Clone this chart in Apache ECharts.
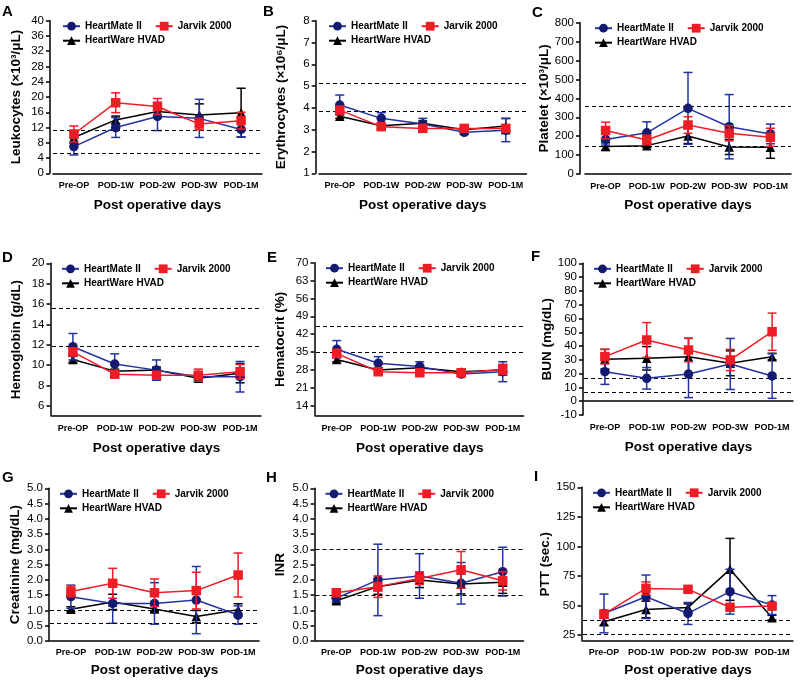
<!DOCTYPE html>
<html><head><meta charset="utf-8">
<script src="https://cdn.jsdelivr.net/npm/echarts@6/dist/echarts.min.js"></script>
<style>html,body{margin:0;padding:0;background:#fff}#c{width:800px;height:683px}</style>
</head><body><div id="c"></div>
<script>
// ---------- data ----------
const categories = ['Pre-OP', 'POD-1W', 'POD-2W', 'POD-3W', 'POD-1M'];
const seriesNames = ['HeartMate II', 'Jarvik 2000', 'HeartWare HVAD'];
const panelLetters = ['A', 'B', 'C', 'D', 'E', 'F', 'G', 'H', 'I'];
const yTitles = ['Leukocytes (×10³/μL)', 'Erythrocytes (×10⁶/μL)', 'Platelet (×10³/μL)',
  'Hemoglobin (g/dL)', 'Hematocrit (%)', 'BUN (mg/dL)', 'Creatinine (mg/dL)', 'INR', 'PTT (sec.)'];
const xTitle = 'Post operative days';

// A Leukocytes
const leukoHM = [7.0, 12.0, 14.9, 14.4, 11.5];   const leukoHMsd = [2.2, 2.6, 3.7, 5.0, 2.0];
const leukoJV = [10.3, 18.5, 17.5, 12.9, 13.8];  const leukoJVsd = [2.1, 2.6, 2.1, 1.5, 2.2];
const leukoHW = [9.4, 14.0, 16.2, 15.3, 15.9];   const leukoHWsd = [1.5, 1.0, 1.0, 2.9, 6.4];
const leukoRef = [11.3, 5.2];
// B Erythrocytes
const eryHM = [4.13, 3.52, 3.26, 2.88, 2.98];    const eryHMsd = [0.46, 0.26, 0.26, 0.1, 0.53];
const eryJV = [3.9, 3.14, 3.06, 3.06, 3.06];     const eryJVsd = [0.15, 0.1, 0.1, 0.1, 0.15];
const eryHW = [3.62, 3.18, 3.3, 3.0, 3.17];      const eryHWsd = [0.1, 0.1, 0.1, 0.1, 0.35];
const eryRef = [5.13, 3.86];
// C Platelet
const pltHM = [183, 218, 347, 250, 212];         const pltHMsd = [30, 58, 190, 170, 52];
const pltJV = [230, 180, 259, 215, 194];         const pltJVsd = [44, 25, 44, 40, 48];
const pltHW = [145, 150, 201, 143, 141];         const pltHWsd = [20, 10, 40, 40, 58];
const pltRef = [357, 148];
// D Hemoglobin
const hgbHM = [11.8, 10.1, 9.5, 8.85, 8.85];     const hgbHMsd = [1.3, 1.0, 1.0, 0.3, 1.5];
const hgbJV = [11.3, 9.1, 9.0, 9.0, 9.35];       const hgbJVsd = [0.4, 0.3, 0.3, 0.6, 0.7];
const hgbHW = [10.55, 9.4, 9.5, 8.7, 9.2];       const hgbHWsd = [0.3, 0.2, 0.3, 0.3, 0.95];
const hgbRef = [15.6, 11.8];
// E Hematocrit
const hctHM = [36.1, 30.6, 29.3, 26.4, 27.3];    const hctHMsd = [3.4, 2.6, 1.9, 0.8, 3.9];
const hctJV = [34.5, 27.3, 26.9, 26.9, 28.2];    const hctJVsd = [1.5, 1.0, 1.0, 1.5, 2.0];
const hctHW = [32.1, 28.0, 28.9, 27.3, 28.0];    const hctHWsd = [1.0, 0.8, 0.8, 0.8, 2.0];
const hctRef = [45, 35];
// F BUN
const bunHM = [21.4, 16.6, 19.7, 27.0, 18.3];    const bunHMsd = [9.2, 7.8, 17.1, 18.5, 16.2];
const bunJV = [32.3, 44.4, 37.1, 29.9, 50.4];    const bunJVsd = [5.3, 12.6, 8.5, 7.7, 13.5];
const bunHW = [30.4, 31.1, 32.3, 27.5, 32.3];    const bunHWsd = [7.2, 8.5, 13.3, 9.0, 2.4];
const bunRef = [17, 6.2];
// G Creatinine
const creHM = [1.45, 1.23, 1.23, 1.34, 0.85];    const creHMsd = [0.38, 0.65, 0.68, 1.1, 0.3];
const creJV = [1.62, 1.89, 1.58, 1.65, 2.16];    const creJVsd = [0.18, 0.49, 0.45, 0.6, 0.72];
const creHW = [1.04, 1.28, 1.05, 0.8, 1.02];     const creHWsd = [0.08, 0.25, 0.1, 0.2, 0.2];
const creRef = [1.02, 0.57];
// H INR
const inrHM = [1.4, 2.0, 2.13, 1.89, 2.27];      const inrHMsd = [0.12, 1.17, 0.73, 0.68, 0.8];
const inrJV = [1.58, 1.78, 2.05, 2.33, 1.97];    const inrJVsd = [0.1, 0.35, 0.2, 0.6, 0.3];
const inrHW = [1.32, 1.78, 2.0, 1.87, 1.92];     const inrHWsd = [0.08, 0.25, 0.25, 0.33, 0.36];
const inrRef = [3.0, 1.5];
// I PTT
const pttHM = [43.3, 57.4, 43.3, 61.7, 50.4];    const pttHMsd = [16.4, 18.4, 9.3, 19, 8];
const pttJV = [42.8, 64.5, 63.7, 48.5, 49.5];    const pttJVsd = [3, 5.5, 2, 2, 2];
const pttHW = [36.3, 46.7, 48.4, 80.6, 39.7];    const pttHWsd = [3, 7, 3, 26.2, 2];
const pttRef = [37.7, 25.5];

// axis tick labels
const leukoTicks = [0, 4, 8, 12, 16, 20, 24, 28, 32, 36, 40];
const eryTicks = [1, 2, 3, 4, 5, 6, 7, 8];
const pltTicks = [0, 100, 200, 300, 400, 500, 600, 700, 800];
const hgbTicks = [6, 8, 10, 12, 14, 16, 18, 20];
const hctTicks = [14, 21, 28, 35, 42, 49, 56, 63, 70];
const bunTicks = [-10, 0, 10, 20, 30, 40, 50, 60, 70, 80, 90, 100];
const creTicks = [0, 0.5, 1.0, 1.5, 2.0, 2.5, 3.0, 3.5, 4.0, 4.5, 5.0];
const inrTicks = [0, 0.5, 1.0, 1.5, 2.0, 2.5, 3.0, 3.5, 4.0, 4.5, 5.0];
const pttTicks = [25, 50, 75, 100, 125, 150];

// ---------- assembly ----------
const panelData = [
  [leukoHM, leukoHMsd, leukoJV, leukoJVsd, leukoHW, leukoHWsd, leukoRef, leukoTicks, 0, 40],
  [eryHM, eryHMsd, eryJV, eryJVsd, eryHW, eryHWsd, eryRef, eryTicks, 1, 8],
  [pltHM, pltHMsd, pltJV, pltJVsd, pltHW, pltHWsd, pltRef, pltTicks, 0, 800],
  [hgbHM, hgbHMsd, hgbJV, hgbJVsd, hgbHW, hgbHWsd, hgbRef, hgbTicks, 5, 20],
  [hctHM, hctHMsd, hctJV, hctJVsd, hctHW, hctHWsd, hctRef, hctTicks, 10, 70],
  [bunHM, bunHMsd, bunJV, bunJVsd, bunHW, bunHWsd, bunRef, bunTicks, -10, 100],
  [creHM, creHMsd, creJV, creJVsd, creHW, creHWsd, creRef, creTicks, 0, 5],
  [inrHM, inrHMsd, inrJV, inrJVsd, inrHW, inrHWsd, inrRef, inrTicks, 0, 5],
  [pttHM, pttHMsd, pttJV, pttJVsd, pttHW, pttHWsd, pttRef, pttTicks, 20, 150]
];
const decimals = [0, 0, 0, 0, 0, 0, 1, 1, 0];

// layout (pixels)
const layout = [
  {left: 53, top: 20.7, width: 209, height: 152.6, off: 3, lx: 2, ly: 4, nameGapX: 25, lblM: 8},
  {left: 319, top: 20.7, width: 207.5, height: 152.6, off: 3.3, lx: 263, ly: 4, nameGapX: 25, lblM: 8},
  {left: 585, top: 22.7, width: 206, height: 151.3, off: 5, lx: 532, ly: 5, nameGapX: 24, lblM: 8},
  {left: 52, top: 263.3, width: 209, height: 152.6, off: 1.5, lx: 2, ly: 250, nameGapX: 25, lblM: 8},
  {left: 316, top: 262.7, width: 207.5, height: 153.2, off: 1.5, lx: 267, ly: 250, nameGapX: 25, lblM: 8},
  {left: 584, top: 263.3, width: 209, height: 151.7, off: 1, lx: 531, ly: 249, nameGapX: 25, lblM: 8},
  {left: 50, top: 488.3, width: 209, height: 152.7, off: 1, lx: 2, ly: 470, nameGapX: 22, lblM: 7},
  {left: 315.5, top: 488.3, width: 208, height: 152.7, off: 1, lx: 266, ly: 470, nameGapX: 22, lblM: 7},
  {left: 583, top: 487.3, width: 210, height: 153.7, off: 1.5, lx: 534, ly: 469, nameGapX: 22, lblM: 7}
];

const colors = {
  'HeartMate II': {item: '#141a70', line: '#2233a3', symbol: 'circle', size: 9.5},
  'Jarvik 2000': {item: '#ee1c24', line: '#ee1c24', symbol: 'rect', size: 9.5},
  'HeartWare HVAD': {item: '#000000', line: '#000000', symbol: 'triangle', size: 9.5}
};

function errRender(color) {
  return function (params, api) {
    const x = api.value(0);
    const lo = api.coord([x, api.value(2)]);
    const hi = api.coord([x, api.value(3)]);
    const w = 4.5;
    const style = {stroke: color, lineWidth: 1.5, fill: null};
    return {type: 'group', children: [
      {type: 'line', shape: {x1: lo[0], y1: lo[1], x2: hi[0], y2: hi[1]}, style: style},
      {type: 'line', shape: {x1: lo[0] - w, y1: lo[1], x2: lo[0] + w, y2: lo[1]}, style: style},
      {type: 'line', shape: {x1: hi[0] - w, y1: hi[1], x2: hi[0] + w, y2: hi[1]}, style: style}
    ]};
  };
}

const font = '"Liberation Sans", Arial, Helvetica, sans-serif';
const option = {
  animation: false,
  backgroundColor: '#ffffff',
  textStyle: {fontFamily: font},
  title: [], grid: [], xAxis: [], yAxis: [], legend: [], series: []
};

panelData.forEach(function (pd, i) {
  const L = layout[i];
  const [hm, hmSd, jv, jvSd, hw, hwSd, ref, ticks, yMin, yMax] = pd;
  option.title.push({text: panelLetters[i], left: L.lx, top: L.ly, padding: 0,
    textStyle: {fontSize: 15, fontWeight: 'bold', color: '#000', fontFamily: font}});
  option.grid.push({left: L.left, top: L.top, width: L.width, height: L.height, containLabel: false});
  option.xAxis.push({
    gridIndex: i, type: 'category', data: categories, boundaryGap: true,
    axisLine: {lineStyle: {color: '#000', width: 1.5}},
    axisTick: {alignWithLabel: true, length: 4, lineStyle: {color: '#000', width: 1.5}},
    axisLabel: {interval: 0, fontSize: 9, fontWeight: 'bold', color: '#000', margin: L.lblM, fontFamily: font},
    splitLine: {show: false},
    name: xTitle, nameLocation: 'middle', nameGap: L.nameGapX,
    nameTextStyle: {fontSize: 13.5, fontWeight: 'bold', color: '#000', fontFamily: font}
  });
  const dec = decimals[i];
  option.yAxis.push({
    gridIndex: i, type: 'value', min: yMin, max: yMax, offset: L.off,
    axisLine: {show: true, lineStyle: {color: '#000', width: 1.5}},
    axisTick: {show: true, length: 4, customValues: ticks, lineStyle: {color: '#000', width: 1.5}},
    axisLabel: {fontSize: 11.5, color: '#000', margin: 6, customValues: ticks, fontFamily: font,
      formatter: function (v) { return dec ? Number(v).toFixed(dec) : String(v); }},
    splitLine: {show: false},
    name: yTitles[i], nameLocation: 'middle', nameGap: 27,
    nameTextStyle: {fontSize: 13.5, fontWeight: 'bold', color: '#000', fontFamily: font}
  });
  const legendCommon = {itemWidth: 17, itemHeight: 11, itemGap: 13, padding: 0, selectedMode: false,
    textStyle: {fontSize: 10, fontWeight: 'bold', color: '#000', fontFamily: font}};
  option.legend.push(Object.assign({left: L.left + 9, top: L.top + 0.5, data: ['HeartMate II', 'Jarvik 2000']}, legendCommon));
  option.legend.push(Object.assign({left: L.left + 9, top: L.top + 15, data: ['HeartWare HVAD']}, legendCommon));

  const groups = [
    ['HeartWare HVAD', hw, hwSd],
    ['HeartMate II', hm, hmSd],
    ['Jarvik 2000', jv, jvSd]
  ];
  groups.forEach(function (g, gi) {
    const name = g[0], means = g[1], sds = g[2], c = colors[name];
    option.series.push({
      type: 'custom', name: name + ' SD', xAxisIndex: i, yAxisIndex: i, silent: true,
      renderItem: errRender(c.line), z: 2 + gi * 2,
      encode: {x: 0, y: [1, 2, 3]},
      data: means.map(function (m, k) { return [k, m, m - sds[k], m + sds[k]]; })
    });
    const s = {
      type: 'line', name: name, xAxisIndex: i, yAxisIndex: i, data: means,
      symbol: c.symbol, symbolSize: c.size, showSymbol: true,
      itemStyle: {color: c.item}, lineStyle: {color: c.line, width: 1.5}, z: 3 + gi * 2
    };
    if (gi === 0) {
      s.markLine = {silent: true, symbol: 'none', label: {show: false},
        lineStyle: {type: [4, 3], color: '#000', width: 1.2},
        data: ref.map(function (v) { return {yAxis: v}; })};
    }
    option.series.push(s);
  });
});

const chart = echarts.init(document.getElementById('c'), null, {renderer: 'canvas'});
chart.setOption(option);
</script>
</body></html>
